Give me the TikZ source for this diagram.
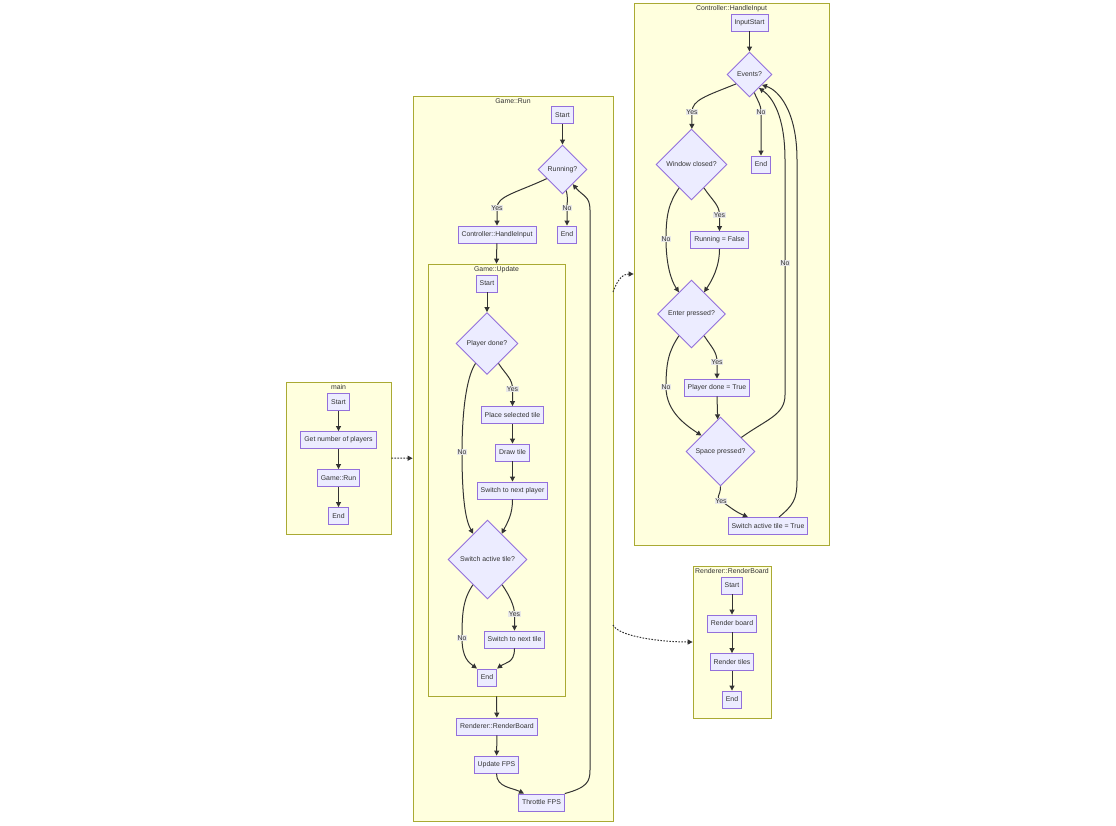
\documentclass[tikz,border=0pt]{standalone}
\usepackage{fontspec}
\setmainfont{Liberation Sans}
\usepackage{tikz}
\usetikzlibrary{arrows.meta,positioning,shapes.geometric}
\definecolor{lav}{HTML}{ECECFF}
\definecolor{purp}{HTML}{9370DB}
\definecolor{cream}{HTML}{FFFFDE}
\definecolor{olive}{HTML}{AAAA33}
\definecolor{ink}{HTML}{333333}
\definecolor{lblg}{HTML}{E8E8E8}

\begin{document}
\begin{tikzpicture}[x=1pt,y=-1pt,font=\fontsize{6.9}{8}\selectfont,text=ink,>={Triangle[length=5pt,width=5pt]},
  procbox/.style={draw=purp,fill=lav,line width=0.9pt,inner xsep=3.5pt,inner ysep=0pt,minimum height=17pt},
  dia/.style={draw=purp,fill=lav,line width=0.9pt,diamond,inner sep=0pt,minimum size=#1},
  subgraph/.style={draw=olive,fill=cream,line width=0.8pt,inner sep=0pt},
  ctitle/.style={inner sep=1pt},
  flow/.style={draw=ink,line width=1pt,->},
  dotflow/.style={flow,dash pattern=on 1.6pt off 1.4pt},
  lbl/.style={fill=lblg,inner sep=0.8pt}]
  \useasboundingbox (0,0) rectangle (1116,825);
  % subgraphs
  \node[subgraph,minimum width=105,minimum height=152] (mainC) at (338.5,458) {};
  \node[subgraph,minimum width=200,minimum height=725] (runC) at (513,458.5) {};
  \node[subgraph,minimum width=137,minimum height=432] (updC) at (496.5,480) {};
  \node[subgraph,minimum width=195,minimum height=542] (ctrlC) at (731.5,274) {};
  \node[subgraph,minimum width=78,minimum height=152] (renderC) at (732,642) {};
  \node[ctitle,below=1.5pt of mainC.north] (mainT) {main};
  \node[ctitle,below=1.5pt of runC.north] (runT) {Game::Run};
  \node[ctitle,below=1.5pt of updC.north] (updT) {Game::Update};
  \node[ctitle,below=1.5pt of ctrlC.north] (ctrlT) {Controller::HandleInput};
  \node[ctitle,below=1.5pt of renderC.north] (renderT) {Renderer::RenderBoard};
  % main
  \node[procbox] (mStart) at (338.5,402) {Start};
  \node[procbox] (mPlayers) at (338.5,440) {Get number of players};
  \node[procbox] (mRun) at (338.5,478) {Game::Run};
  \node[procbox] (mEnd) at (338.5,516) {End};
  % Game::Run
  \node[procbox] (rStart) at (562.5,115) {Start};
  \node[dia=49] (running) at (562.5,169.5) {Running?};
  \node[procbox] (ctrlCall) at (497,234.5) {Controller::HandleInput};
  \node[procbox] (rEnd) at (567,234.5) {End};
  \node[procbox] (uStart) at (487,283.5) {Start};
  \node[dia=62] (playerDone) at (487,343.5) {Player done?};
  \node[procbox] (placeTile) at (512.5,415) {Place selected tile};
  \node[procbox] (drawTile) at (512.5,452.5) {Draw tile};
  \node[procbox] (nextPlayer) at (512.5,490.5) {Switch to next player};
  \node[dia=79] (switchActive) at (487.5,559.5) {Switch active tile?};
  \node[procbox] (nextTile) at (514.5,639.5) {Switch to next tile};
  \node[procbox] (uEnd) at (487,677.5) {End};
  \node[procbox] (rbCall) at (497,726.5) {Renderer::RenderBoard};
  \node[procbox] (updFps) at (496.5,764.5) {Update FPS};
  \node[procbox] (throttle) at (541.5,802.5) {Throttle FPS};
  % Controller::HandleInput
  \node[procbox] (cStart) at (749.5,22.5) {InputStart};
  \node[dia=45] (events) at (749.5,74.5) {Events?};
  \node[dia=71] (winClosed) at (691.5,164.5) {Window closed?};
  \node[procbox] (cEnd) at (761,164.5) {End};
  \node[procbox] (runFalse) at (719.5,240) {Running = False};
  \node[dia=68] (enterPressed) at (691.5,314) {Enter pressed?};
  \node[procbox] (playerTrue) at (717,387.5) {Player done = True};
  \node[dia=69] (spacePressed) at (720.5,451.5) {Space pressed?};
  \node[procbox] (switchTrue) at (768,526) {Switch active tile = True};
  % Renderer::RenderBoard
  \node[procbox] (bStart) at (732,585.5) {Start};
  \node[procbox] (bBoard) at (732,623.5) {Render board};
  \node[procbox] (bTiles) at (732,662) {Render tiles};
  \node[procbox] (bEnd) at (732,699.5) {End};

  \draw[flow] (mStart) -- (mPlayers);
  \draw[flow] (mPlayers) -- (mRun);
  \draw[flow] (mRun) -- (mEnd);
  \draw[dotflow] (mainC) -- (runC);

  \draw[flow] (rStart) -- (running);
  \draw[flow] (running.-150) .. controls +(-30,14) and +(0,-12) .. (497,208) node[lbl] {Yes} -- (ctrlCall);
  \draw[flow] (running.-80) .. controls +(2,8) and +(0,-6) .. (567,208) node[lbl] {No} -- (rEnd);
  \draw[flow] (ctrlCall) -- (updC.north);
  \draw[flow] (uStart) -- (playerDone);
  \draw[flow] (playerDone.-60) .. controls +(8,12) and +(0,-10) .. (512.5,389) node[lbl] {Yes} -- (placeTile);
  \draw[flow] (placeTile) -- (drawTile);
  \draw[flow] (drawTile) -- (nextPlayer);
  \draw[flow] (playerDone.-120) .. controls +(-10,15) and +(0,-35) .. (462,452) node[lbl] {No}
    .. controls +(0,45) and +(-8,-14) .. (switchActive.119);
  \draw[flow] (nextPlayer.south) .. controls +(0,15) and +(6,-12) .. (switchActive.61);
  \draw[flow] (switchActive.-60) .. controls +(7,10) and +(0,-8) .. (514.5,614) node[lbl] {Yes} -- (nextTile);
  \draw[flow] (switchActive.-120) .. controls +(-10,15) and +(0,-25) .. (462,638) node[lbl] {No}
    .. controls +(0,20) and +(-8,-6) .. (uEnd.north west);
  \draw[flow] (nextTile.south) .. controls +(0,15) and +(8,-6) .. (uEnd.north east);
  \draw[flow] (updC.south) -- (rbCall);
  \draw[flow] (rbCall) -- (updFps);
  \draw[flow] (updFps.south) .. controls +(0,14) and +(-12,-6) .. (throttle.153);
  \draw[flow] (throttle.north east) .. controls +(22,-6) and +(0,12) .. (590,770) -- (590,210)
    .. controls +(0,-14) and +(10,12) .. (running.-55);

  \draw[flow] (cStart) -- (events);
  \draw[flow] (events.-145) .. controls +(-30,12) and +(0,-12) .. (692,112) node[lbl] {Yes} -- (winClosed);
  \draw[flow] (events.-75) .. controls +(3,8) and +(0,-8) .. (761,112) node[lbl] {No} -- (cEnd);
  \draw[flow] (winClosed.-62) .. controls +(8,12) and +(0,-10) .. (719.5,215) node[lbl] {Yes} -- (runFalse);
  \draw[flow] (winClosed.-118) .. controls +(-10,15) and +(0,-25) .. (666,239) node[lbl] {No}
    .. controls +(0,25) and +(-8,-12) .. (enterPressed.120);
  \draw[flow] (runFalse.south) .. controls +(0,18) and +(8,-12) .. (enterPressed.60);
  \draw[flow] (enterPressed.-60) .. controls +(8,12) and +(0,-10) .. (717,362) node[lbl] {Yes} -- (playerTrue);
  \draw[flow] (enterPressed.-120) .. controls +(-10,15) and +(0,-25) .. (666,387) node[lbl] {No}
    .. controls +(0,25) and +(-15,-10) .. (spacePressed.140);
  \draw[flow] (playerTrue.south) -- (spacePressed.95);
  \draw[flow] (spacePressed.south) .. controls +(0,10) and +(-6,-4) .. (721,501) node[lbl] {Yes}
    .. controls +(8,5) and +(-14,-6) .. (switchTrue.156);
  \draw[flow] (spacePressed.34) .. controls +(25,-18) and +(0,20) .. (785,395) -- (785,263) node[lbl] {No}
    -- (785,160) .. controls (785,115) and (772,97) .. (events.-55);
  \draw[flow] (switchTrue.39) .. controls +(14,-12) and +(0,20) .. (797,480) -- (797,160)
    .. controls (797,110) and (778,90) .. (events.-40);

  \draw[flow] (bStart) -- (bBoard);
  \draw[flow] (bBoard) -- (bTiles);
  \draw[flow] (bTiles) -- (bEnd);
  \coordinate (runOutA) at (613,292);
  \coordinate (runOutB) at (613,625);
  \draw[dotflow] (runOutA) .. controls +(5,-14) and +(-10,0) .. (ctrlC.west);
  \draw[dotflow] (runOutB) .. controls +(6,12) and +(-30,0) .. (renderC.west);
\end{tikzpicture}
\end{document}
